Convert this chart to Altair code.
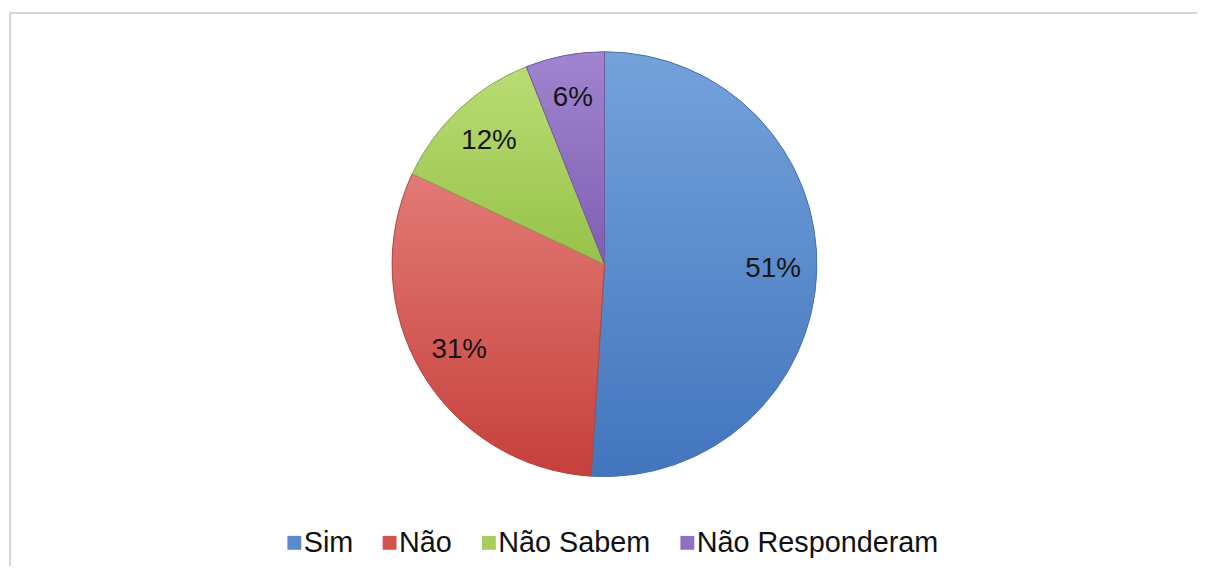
import altair as alt
import pandas as pd

categories = ["Sim", "Não", "Não Sabem", "Não Responderam"]
values = [51, 31, 12, 6]
solid_colors = ["#5a8acd", "#d3524e", "#a8cd5c", "#9070c0"]
top_colors = ["#74a2db", "#e27a75", "#b9dc74", "#a084cf"]
bottom_colors = ["#4275bd", "#c6403c", "#97c249", "#7f5fb3"]
stroke_colors = ["#4a72a8", "#b04844", "#8aa856", "#745a9f"]

df = pd.DataFrame({"categoria": categories, "valor": values, "ordem": list(range(len(categories)))})

CX, CY, R = 600, 256, 214

base = (
    alt.Chart(df)
    .transform_window(fim="sum(valor)", sort=[alt.SortField("ordem")], frame=[None, 0])
    .transform_calculate(
        inicio="datum.fim - datum.valor",
        meio="datum.fim - datum.valor / 2",
        rotulo="datum.valor + '%'",
    )
)

theta_scale = alt.Scale(domain=[0, 100])

solid = base.mark_arc(outerRadius=R).encode(
    theta=alt.Theta("inicio:Q", scale=theta_scale),
    theta2="fim:Q",
    color=alt.Color(
        "categoria:N",
        scale=alt.Scale(domain=categories, range=solid_colors),
        legend=alt.Legend(
            title=None,
            orient="none",
            direction="horizontal",
            legendX=273,
            legendY=522,
            symbolType="square",
            symbolSize=196,
            symbolStrokeWidth=0,
            symbolOpacity=1,
            labelFontSize=29,
            labelFont="Liberation Sans",
            labelColor="#111111",
            labelOffset=alt.ExprRef(expr="-5"),
            labelLimit=500,
            columnPadding=22,
            padding=0,
        ),
    ),
    x=alt.value(CX),
    y=alt.value(CY),
)

layers = [solid]
for cat, t, b, s in zip(categories, top_colors, bottom_colors, stroke_colors):
    layers.append(
        base.transform_filter(alt.datum.categoria == cat)
        .mark_arc(
            outerRadius=R,
            fill=alt.Gradient(
                gradient="linear",
                stops=[alt.GradientStop(color=t, offset=0), alt.GradientStop(color=b, offset=1)],
                x1=0, y1=0, x2=0, y2=1,
            ),
            stroke=s,
            strokeWidth=1,
        )
        .encode(
            theta=alt.Theta("inicio:Q", scale=theta_scale),
            theta2="fim:Q",
            x=alt.value(CX),
            y=alt.value(CY),
        )
    )

labels = base.mark_text(
    radius=170, fontSize=28, font="Liberation Sans", color="#151515"
).encode(
    theta=alt.Theta("meio:Q", scale=theta_scale),
    text="rotulo:N",
    x=alt.value(CX),
    y=alt.value(CY),
)
layers.append(labels)

frame_df = pd.DataFrame({"k": [0]})
top_line = alt.Chart(frame_df).mark_rule(color="#d6d6d6", strokeWidth=2).encode(
    x=alt.value(0), x2=alt.value(1197), y=alt.value(3)
)
left_line = alt.Chart(frame_df).mark_rule(color="#d6d6d6", strokeWidth=2).encode(
    x=alt.value(1), y=alt.value(3), y2=alt.value(560)
)
layers = [top_line, left_line] + layers

chart = (
    alt.layer(*layers)
    .properties(width=1190, height=558, padding=0, background="white")
    .configure_view(stroke=None)
)

chart.save("out.html", embed_options={"renderer": "svg", "actions": False})
